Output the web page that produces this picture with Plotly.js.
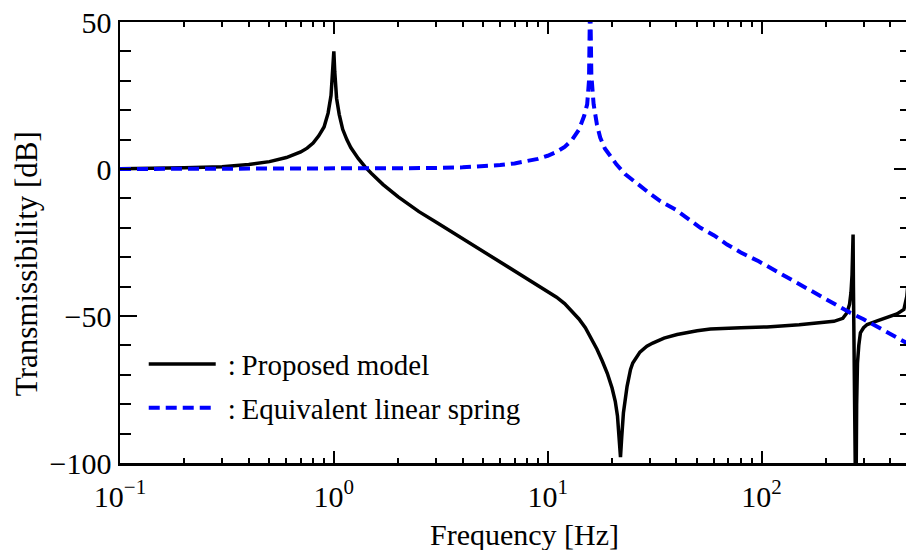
<!DOCTYPE html>
<html><head><meta charset="utf-8">
<script src="https://cdn.plot.ly/plotly-3.0.1.min.js"></script>
<style>html,body{margin:0;padding:0;overflow:hidden;background:#fff}#chart{width:912px;height:550px}</style>
</head><body><div id="chart"></div>
<script>
// Proposed model (black solid)
const proposedFreq = [0.1,0.15,0.2,0.3,0.4,0.5,0.6,0.7,0.75,0.8,0.85,0.9,0.94,0.97,0.99,1.0,1.01,1.03,1.06,1.1,1.15,1.2,1.3,1.4,1.5,1.7,2.0,2.5,3.0,4.0,5.0,6.0,7.0,8.0,9,10,11,12,13,14,15,16,17,18,19,20,20.7,21.2,21.6,21.9,22.2,22.6,23.5,24.4,25,27,29.1,31,35,40.3,50,57.7,80,106,150,200,218,240,251,258,262,265,267,268,269,271,273,275,276,277,278.5,281,285,290,300,312,350,387,430,463,478,490,500];
const proposedDb = [0.1,0.2,0.4,0.8,1.5,2.5,3.9,5.8,7.1,8.8,11.3,14.3,19.0,25,33,40,33,24,18.5,13.5,10,7.3,3.6,0.7,-1.5,-5.3,-9.5,-14.5,-18,-23.7,-28.2,-31.7,-34.7,-37.3,-39.5,-41.6,-43.6,-45.8,-48.3,-51,-54,-57.5,-61.3,-65.3,-69.5,-74.5,-79,-84,-91,-98,-91,-83,-74,-68.2,-66,-62.3,-60.3,-59.2,-57.5,-56.3,-55,-54.4,-54,-53.7,-53,-52.3,-51.8,-50.8,-48.9,-46,-42,-36,-28,-22.3,-40,-60,-80,-105,-120,-105,-80,-66,-60,-55.7,-54,-52.9,-51.6,-50.6,-49.3,-47.8,-43.3,-35,-25];
// Equivalent linear spring (blue dashed)
const linearFreq = [0.1,0.5,1,2,3,4,5,6,7,8,9,10,11,12,13,14,14.8,15.3,15.6,15.8,16.0,16.4,17,17.6,18.5,19.6,21,23,25.2,30,33.6,40,51.8,60,69,80,97,120,136.6,160,200,225,260,300,350,400,463,500];
const linearDb = [0,0.01,0.03,0.14,0.32,0.57,0.92,1.35,1.9,2.6,3.45,4.5,5.8,7.5,9.9,13.4,18,22,30,60,32,22,15,10.7,7,4.5,1.5,-1.7,-4.1,-8.3,-10.9,-14,-20,-22.6,-25.7,-28.4,-31.4,-35.2,-37.2,-40,-44,-46.4,-48.9,-51.1,-53.9,-56.2,-58.8,-60];
const seriesNames = [':\u2009Proposed model', ':\u2009Equivalent linear spring'];
const xTickVals = [0.1, 1, 10, 100];
const xTickText = ['10<sup>\u22121</sup>', '10<sup>0</sup>', '10<sup>1</sup>', '10<sup>2</sup>'];
const yTickVals = [-100, -50, 0, 50];
const yTickText = ['\u2212100', '\u221250', '0', '50'];
const xTitle = 'Frequency [Hz]';
const yTitle = 'Transmissibility [dB]';

const FONT = 'Liberation Serif, Times New Roman, serif';
const traces = [
  {x: proposedFreq, y: proposedDb, name: seriesNames[0], type: 'scatter', mode: 'lines',
   line: {color: '#000000', width: 3.5}, legendgroup: 'a'},
  {x: linearFreq, y: linearDb, name: seriesNames[1], type: 'scatter', mode: 'lines',
   line: {color: '#0000ff', width: 4, dash: '11px,6px'}, legendgroup: 'b'}
];
const axisCommon = {showgrid: false, zeroline: false, showline: true, linecolor: '#000', linewidth: 2.5,
  mirror: 'ticks', ticks: 'inside', tickcolor: '#000', tickwidth: 2,
  tickfont: {family: FONT, size: 30, color: '#000'}};
const layout = {
  width: 912, height: 550,
  margin: {l: 120, r: 1, t: 22, b: 87},
  paper_bgcolor: '#fff', plot_bgcolor: '#fff',
  font: {family: FONT, color: '#000'},
  showlegend: true,
  legend: {x: 0.03, y: 0.282, xanchor: 'left', yanchor: 'top', bgcolor: 'rgba(0,0,0,0)', borderwidth: 0,
    font: {family: FONT, size: 29, color: '#000'}, tracegroupgap: 3, itemwidth: 74},
  xaxis: Object.assign({}, axisCommon, {
    type: 'log', range: [-1, Math.log10(500)], tickmode: 'array', tickvals: xTickVals, ticktext: xTickText,
    ticklen: 12, ticklabelstandoff: 5,
    minor: {ticks: 'inside', ticklen: 5, tickwidth: 2, tickcolor: '#000', dtick: 'D1', showgrid: false}
  }),
  yaxis: Object.assign({}, axisCommon, {
    range: [-100, 50], tickmode: 'array', tickvals: yTickVals, ticktext: yTickText,
    ticklen: 17,
    minor: {ticks: 'inside', ticklen: 11, tickwidth: 2, tickcolor: '#000', dtick: 10, showgrid: false}
  }),
  annotations: [
    {text: xTitle, xref: 'paper', yref: 'paper', x: 0.512, y: -0.162, xanchor: 'center', yanchor: 'middle',
     showarrow: false, font: {family: FONT, size: 30, color: '#000'}},
    {text: yTitle, xref: 'paper', yref: 'paper', x: -0.1188, y: 0.451, xanchor: 'center', yanchor: 'middle',
     textangle: -90, showarrow: false, font: {family: FONT, size: 31, color: '#000'}}
  ]
};
Plotly.newPlot('chart', traces, layout, {staticPlot: true, displayModeBar: false}).then(function(gd){
  document.querySelectorAll('#chart .legend .traces .legendlines path').forEach(function(p){
    p.setAttribute('d', 'M5,0h67');
  });
});
</script></body></html>
